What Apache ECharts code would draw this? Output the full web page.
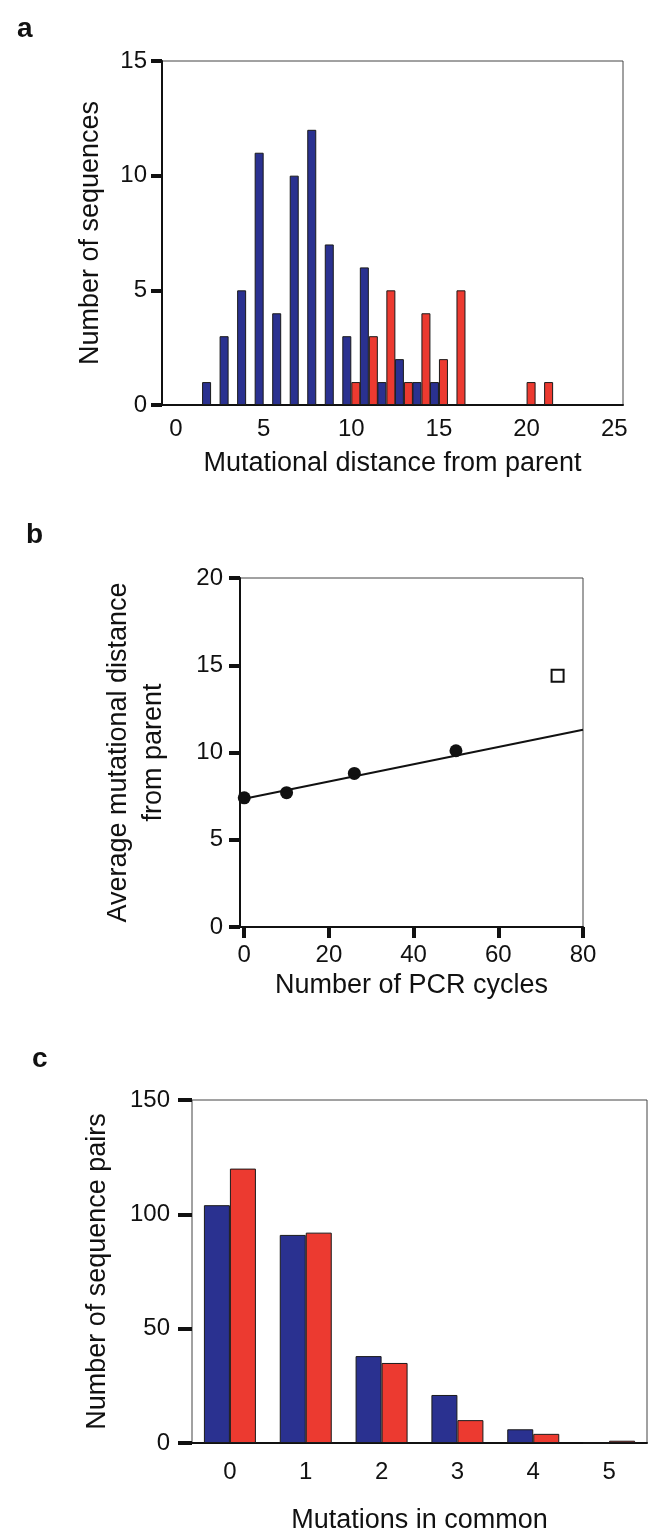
<!DOCTYPE html>
<html>
<head>
<meta charset="utf-8">
<script src="https://cdn.jsdelivr.net/npm/echarts@6/dist/echarts.min.js"></script>
<style>
  html, body { margin: 0; padding: 0; background: #fff; }
  #chart { width: 650px; height: 1539px; }
</style>
</head>
<body>
<div id="chart"></div>
<script>
// panel a: distribution of mutational distances
var blueDistance = [2, 3, 4, 5, 6, 7, 8, 9, 10, 11, 12, 13, 14, 15];
var blueCount    = [1, 3, 5, 11, 4, 10, 12, 7, 3, 6, 1, 2, 1, 1];
var redDistance  = [10, 11, 12, 13, 14, 15, 16, 20, 21];
var redCount     = [1, 3, 5, 1, 4, 2, 5, 1, 1];
var distanceTicks = [0, 5, 10, 15, 20, 25];

// panel b: average distance vs PCR cycles
var pcrCycles   = [0, 10, 26, 50];
var avgDistance = [7.4, 7.7, 8.8, 10.1];
var openCycles   = [74];
var openDistance = [14.4];
var fitCycles   = [0, 80];
var fitDistance = [7.35, 11.3];
var cycleTicks  = [0, 20, 40, 60, 80];

// panel c: shared mutations between sequence pairs
var commonCats = ['0', '1', '2', '3', '4', '5'];
var bluePairs  = [104, 91, 38, 21, 6, 0];
var redPairs   = [120, 92, 35, 10, 4, 1];

var BLUE = '#2a3190';
var RED = '#ec3a30';
var FONT = '"Liberation Sans", Arial, Helvetica, sans-serif';
var INK = '#111';

function pairs(xs, ys) {
    return xs.map(function (x, i) { return [x, ys[i]]; });
}

var tickLabel = { color: INK, fontSize: 24, fontFamily: FONT };
var nameText = { color: INK, fontSize: 27, fontFamily: FONT };
var axisLine = { onZero: false, lineStyle: { color: INK, width: 2 } };
var thickTick = { show: true, inside: false, length: 11, lineStyle: { color: INK, width: 4 } };

var chart = echarts.init(document.getElementById('chart'), null, { renderer: 'canvas' });

chart.setOption({
    animation: false,
    backgroundColor: '#fff',
    title: [
        { text: 'a', left: 12, top: 10, textStyle: { fontSize: 28, fontWeight: 'bold', fontFamily: FONT, color: INK } },
        { text: 'b', left: 21, top: 516, textStyle: { fontSize: 28, fontWeight: 'bold', fontFamily: FONT, color: INK } },
        { text: 'c', left: 27, top: 1040, textStyle: { fontSize: 28, fontWeight: 'bold', fontFamily: FONT, color: INK } }
    ],
    grid: [
        { left: 162, top: 61, width: 461, height: 344, show: true, borderColor: '#444', borderWidth: 1 },
        { left: 240, top: 578, width: 343, height: 349, show: true, borderColor: '#444', borderWidth: 1 },
        { left: 192, top: 1100, width: 455, height: 343, show: true, borderColor: '#444', borderWidth: 1 }
    ],
    xAxis: [
        {
            gridIndex: 0, type: 'value', min: -0.8, max: 25.5,
            name: 'Mutational distance from parent', nameLocation: 'middle', nameGap: 45, nameTextStyle: nameText,
            axisLine: axisLine, axisTick: { show: false },
            axisLabel: Object.assign({ margin: 12, customValues: distanceTicks }, tickLabel),
            splitLine: { show: false }
        },
        {
            gridIndex: 1, type: 'value', min: -1, max: 80,
            name: 'Number of PCR cycles', nameLocation: 'middle', nameGap: 45, nameTextStyle: nameText,
            axisLine: axisLine,
            axisTick: Object.assign({ customValues: cycleTicks }, thickTick),
            axisLabel: Object.assign({ margin: 16, customValues: cycleTicks }, tickLabel),
            splitLine: { show: false }
        },
        {
            gridIndex: 2, type: 'category', data: commonCats,
            name: 'Mutations in common', nameLocation: 'middle', nameGap: 64, nameTextStyle: nameText,
            axisLine: axisLine, axisTick: { show: false },
            axisLabel: Object.assign({ margin: 17 }, tickLabel),
            splitLine: { show: false }
        }
    ],
    yAxis: [
        {
            gridIndex: 0, type: 'value', min: 0, max: 15, interval: 5,
            name: 'Number of sequences', nameLocation: 'middle', nameGap: 58, nameTextStyle: nameText,
            axisLine: axisLine, axisTick: thickTick,
            axisLabel: Object.assign({ margin: 15 }, tickLabel),
            splitLine: { show: false }
        },
        {
            gridIndex: 1, type: 'value', min: 0, max: 20, interval: 5,
            name: 'Average mutational distance\nfrom parent', nameLocation: 'middle', nameGap: 69,
            nameTextStyle: Object.assign({ lineHeight: 35 }, nameText),
            axisLine: axisLine, axisTick: thickTick,
            axisLabel: Object.assign({ margin: 17 }, tickLabel),
            splitLine: { show: false }
        },
        {
            gridIndex: 2, type: 'value', min: 0, max: 150, interval: 50,
            name: 'Number of sequence pairs', nameLocation: 'middle', nameGap: 81, nameTextStyle: nameText,
            axisLine: axisLine, axisTick: Object.assign({}, thickTick, { length: 14 }),
            axisLabel: Object.assign({ margin: 22 }, tickLabel),
            splitLine: { show: false }
        }
    ],
    series: [
        {
            type: 'bar', xAxisIndex: 0, yAxisIndex: 0,
            data: pairs(blueDistance, blueCount),
            barWidth: 9, barGap: '0%',
            itemStyle: { color: BLUE, borderColor: '#1a1a1a', borderWidth: 1 }
        },
        {
            type: 'bar', xAxisIndex: 0, yAxisIndex: 0,
            data: pairs(redDistance, redCount),
            barWidth: 9, barGap: '0%',
            itemStyle: { color: RED, borderColor: '#1a1a1a', borderWidth: 1 }
        },
        {
            type: 'line', xAxisIndex: 1, yAxisIndex: 1,
            data: pairs(fitCycles, fitDistance),
            showSymbol: false, symbol: 'none',
            lineStyle: { color: INK, width: 2 }
        },
        {
            type: 'scatter', xAxisIndex: 1, yAxisIndex: 1,
            data: pairs(pcrCycles, avgDistance),
            symbol: 'circle', symbolSize: 13,
            itemStyle: { color: INK, opacity: 1 }
        },
        {
            type: 'scatter', xAxisIndex: 1, yAxisIndex: 1,
            data: pairs(openCycles, openDistance),
            symbol: 'rect', symbolSize: 12,
            itemStyle: { color: '#fff', borderColor: INK, borderWidth: 2, opacity: 1 }
        },
        {
            type: 'bar', xAxisIndex: 2, yAxisIndex: 2,
            data: bluePairs,
            barWidth: 26, barGap: '0%',
            itemStyle: { color: BLUE, borderColor: '#1a1a1a', borderWidth: 1 }
        },
        {
            type: 'bar', xAxisIndex: 2, yAxisIndex: 2,
            data: redPairs,
            barWidth: 26, barGap: '0%',
            itemStyle: { color: RED, borderColor: '#1a1a1a', borderWidth: 1 }
        }
    ]
});
</script>
</body>
</html>
